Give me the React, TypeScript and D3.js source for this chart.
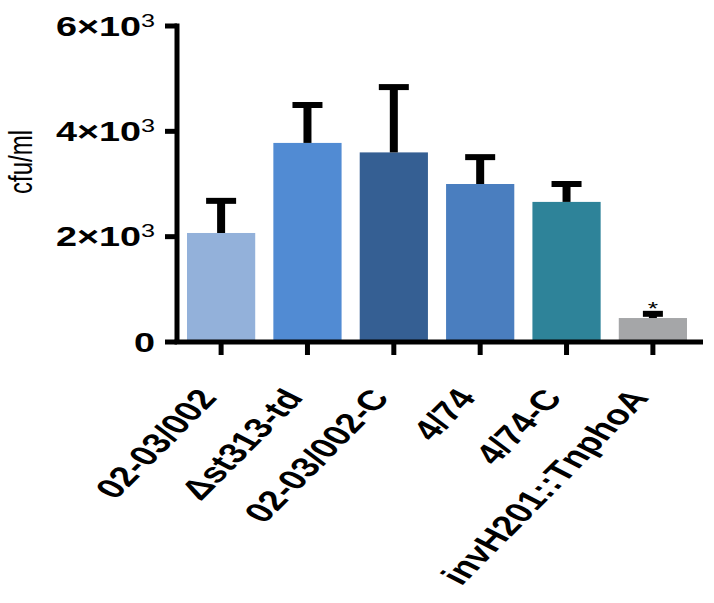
import React from "react";
import * as d3 from "d3";

const categories = ["02-03/002", "\u0394st313-td", "02-03/002-C", "4/74", "4/74-C", "invH201::TnphoA"];
const means = [2070, 3780, 3600, 3000, 2660, 455];
const sems = [610, 720, 1240, 510, 340, 80];
const colors = ["#93b1da", "#518bd3", "#355f93", "#4a7ebf", "#2e8399", "#a5a6a8"];
const yTicks = [0, 2000, 4000, 6000];
const yTickMantissa = ["0", "2", "4", "6"];
const significance = ["", "", "", "", "", "*"];

const W = 714;
const H = 603;
const SX = 1.4;

export default function App() {
  const y = d3.scaleLinear().domain([0, 6000]).range([342, 26]);
  const x = d3.scaleBand<string>().domain(categories).range([187, 687]).paddingInner(0.21).paddingOuter(0);
  const axisX = 177;
  const lw = 5;
  const font = "'Liberation Sans', Arial, sans-serif";
  const angle = (Math.atan(SX) * 180) / Math.PI;

  return (
    <svg width={W} height={H} viewBox={`0 0 ${W} ${H}`} style={{ display: "block", position: "absolute", left: 0, top: 0 }}>
      <rect width={W} height={H} fill="#fff" />
      {/* bars */}
      {categories.map((c, i) => (
        <rect key={c} x={x(c)} y={y(means[i])} width={x.bandwidth()} height={y(0) - y(means[i])} fill={colors[i]} />
      ))}
      {/* error bars */}
      {categories.map((c, i) => {
        const cx = (x(c) as number) + x.bandwidth() / 2;
        const top = y(means[i] + sems[i]);
        const capW = i === 5 ? 20 : 30;
        return (
          <g key={"e" + c}>
            <line x1={cx} x2={cx} y1={y(means[i])} y2={top} stroke="#000" strokeWidth={8} />
            <line x1={cx - capW / 2} x2={cx + capW / 2} y1={top} y2={top} stroke="#000" strokeWidth={6} />
          </g>
        );
      })}
      {/* significance */}
      {categories.map((c, i) =>
        significance[i] ? (
          <g key={"s" + c} transform={`translate(${(x(c) as number) + x.bandwidth() / 2},${y(means[i] + sems[i]) + 1}) scale(${SX},1)`}>
            <text textAnchor="middle" fontFamily={font} fontSize={19} fill="#000">
              {significance[i]}
            </text>
          </g>
        ) : null
      )}
      {/* y axis */}
      <line x1={axisX} x2={axisX} y1={y(6000) - lw / 2} y2={y(0)} stroke="#000" strokeWidth={lw} />
      {yTicks.map((t) => (
        <line key={"yt" + t} x1={axisX - 12} x2={axisX} y1={y(t)} y2={y(t)} stroke="#000" strokeWidth={lw} />
      ))}
      {yTicks.map((t, i) => (
        <g key={"yl" + t} transform={`translate(155,${y(t)}) scale(${SX},1)`}>
          <text textAnchor="end" fontFamily={font} fontWeight="bold" fontSize={27} fill="#000" dy="0.36em">
            {t === 0 ? (
              "0"
            ) : (
              <>
                {yTickMantissa[i] + "\u00d710"}
                <tspan fontSize={18} fontWeight="normal" dy="-9">3</tspan>
              </>
            )}
          </text>
        </g>
      ))}
      {/* x axis */}
      <line x1={axisX - lw / 2} x2={703} y1={y(0)} y2={y(0)} stroke="#000" strokeWidth={lw} />
      {categories.map((c) => {
        const cx = (x(c) as number) + x.bandwidth() / 2;
        return <line key={"xt" + c} x1={cx} x2={cx} y1={y(0)} y2={y(0) + 13} stroke="#000" strokeWidth={lw} />;
      })}
      {categories.map((c) => {
        const cx = (x(c) as number) + x.bandwidth() / 2;
        return (
          <g key={"xl" + c} transform={`translate(${cx - 3},398) scale(${SX},1) rotate(${-angle})`}>
            <text textAnchor="end" fontFamily={font} fontWeight="bold" fontSize={28} fill="#000">
              {c}
            </text>
          </g>
        );
      })}
      {/* y title */}
      <g transform={`translate(20,162) scale(${SX},1) rotate(-90)`}>
        <text textAnchor="middle" fontFamily={font} fontSize={24} fill="#000" dy="0.35em">
          cfu/ml
        </text>
      </g>
    </svg>
  );
}
